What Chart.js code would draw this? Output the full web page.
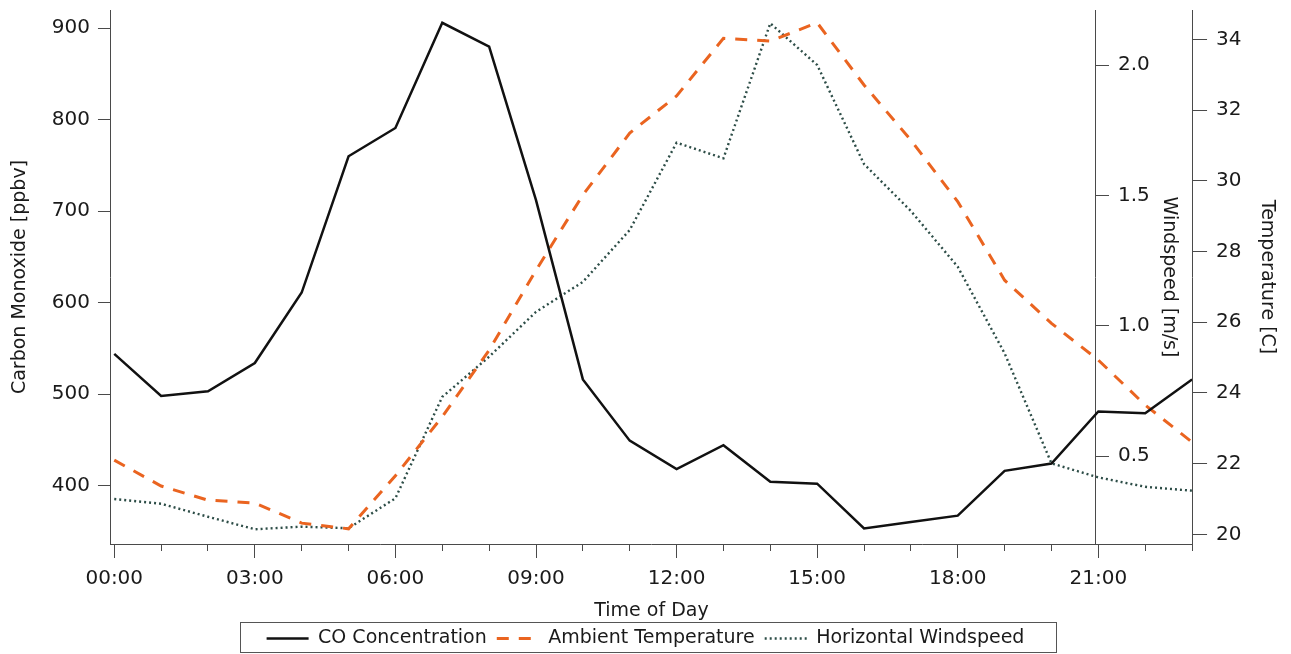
<!DOCTYPE html>
<html>
<head>
<meta charset="utf-8">
<script src="https://cdn.jsdelivr.net/npm/chart.js@4.4.1/dist/chart.umd.min.js"></script>
<style>
  html, body { margin: 0; padding: 0; background: #ffffff; }
  #wrap { width: 1291px; height: 654px; }
</style>
</head>
<body>
<div id="wrap"><canvas id="chart" width="1291" height="654"></canvas></div>
<script>
// Hour of day for each hourly mean
const hours = [0, 1, 2, 3, 4, 5, 6, 7, 8, 9, 10, 11, 12, 13, 14, 15, 16, 17, 18, 19, 20, 21, 22, 23];
const timeLabels = ['00:00', '03:00', '06:00', '09:00', '12:00', '15:00', '18:00', '21:00'];

// Diurnal series
const coPpbv = [544, 498, 503, 534, 611, 760, 791, 906, 880, 712, 516, 449, 418, 444, 404, 402, 353, 360, 367, 416, 424, 481, 479, 516];
const tempC = [22.1, 21.37, 20.97, 20.89, 20.32, 20.16, 21.66, 23.33, 25.21, 27.47, 29.6, 31.35, 32.4, 34.03, 33.95, 34.47, 32.71, 31.15, 29.41, 27.19, 25.97, 24.93, 23.66, 22.61];
const windMs = [0.335, 0.317, 0.267, 0.219, 0.229, 0.223, 0.338, 0.727, 0.881, 1.053, 1.168, 1.367, 1.702, 1.642, 2.16, 2.0, 1.62, 1.44, 1.226, 0.894, 0.472, 0.418, 0.382, 0.367];

// Axis tick values
const coTicks = [400, 500, 600, 700, 800, 900];
const tempTicks = [20, 22, 24, 26, 28, 30, 32, 34];
const windTicks = [0.5, 1.0, 1.5, 2.0];

const AXIS = '#4a4a4a';
const TEXT = '#1a1a1a';
const FONT = 'DejaVu Sans';
const WIND_AXIS_AT = 20.95; // hour at which the windspeed axis is drawn

Chart.defaults.font.family = FONT;
Chart.defaults.color = TEXT;

const pts = (vals) => hours.map((h, i) => ({ x: h, y: vals[i] }));
const noEdgePadding = (s) => { s.paddingTop = 0; s.paddingBottom = 0; };

// Windspeed axis labels and title, drawn beside its axis line
const windAxisText = {
  id: 'windAxisText',
  afterDraw(chart) {
    const s = chart.scales.yWind;
    const ax = chart.scales.x.getPixelForValue(WIND_AXIS_AT);
    const ctx = chart.ctx;
    ctx.save();
    ctx.fillStyle = TEXT;
    ctx.font = '20px "' + FONT + '"';
    ctx.textAlign = 'left';
    ctx.textBaseline = 'middle';
    s.ticks.forEach(t => ctx.fillText(t.value.toFixed(1), ax + 22, s.getPixelForValue(t.value)));
    ctx.font = '19px "' + FONT + '"';
    ctx.textAlign = 'center';
    ctx.translate(ax + 73, (chart.chartArea.top + chart.chartArea.bottom) / 2);
    ctx.rotate(Math.PI / 2);
    ctx.fillText('Windspeed [m/s]', 0, 0);
    ctx.restore();
  }
};

// Frame around the legend entries
const legendFrame = {
  id: 'legendFrame',
  afterDraw(chart) {
    const hb = chart.legend.legendHitBoxes;
    if (!hb || !hb.length) return;
    const left = Math.min(...hb.map(b => b.left)) - 27;
    const right = Math.max(...hb.map(b => b.left + b.width)) + 31;
    const top = hb[0].top - 7;
    const ctx = chart.ctx;
    ctx.save();
    ctx.strokeStyle = '#555555';
    ctx.lineWidth = 1;
    ctx.strokeRect(Math.round(left) + 0.5, Math.round(top) + 0.5, Math.round(right - left), 30);
    ctx.restore();
  }
};

// Legend samples carry each line's own width and dash pattern
const lineLegendLabels = (chart) => {
  const items = Chart.defaults.plugins.legend.labels.generateLabels(chart);
  items.forEach(it => {
    const ds = chart.data.datasets[it.datasetIndex];
    it.lineDash = ds.borderDash || [];
    it.lineWidth = ds.borderWidth;
    it.strokeStyle = ds.borderColor;
    it.fillStyle = ds.borderColor;
    it.lineCap = 'butt';
  });
  return items;
};

new Chart(document.getElementById('chart'), {
  type: 'line',
  data: {
    datasets: [
      {
        label: 'CO Concentration',
        data: pts(coPpbv),
        yAxisID: 'yCO',
        borderColor: '#111111',
        borderWidth: 2.5,
        pointRadius: 0,
        tension: 0,
        fill: false
      },
      {
        label: 'Ambient Temperature',
        data: pts(tempC),
        yAxisID: 'yTemp',
        borderColor: '#EA6420',
        borderWidth: 3,
        borderDash: [12, 10],
        pointRadius: 0,
        tension: 0,
        fill: false
      },
      {
        label: 'Horizontal Windspeed',
        data: pts(windMs),
        yAxisID: 'yWind',
        borderColor: '#2D4D47',
        borderWidth: 2.4,
        borderDash: [2, 3],
        pointRadius: 0,
        tension: 0,
        fill: false
      }
    ]
  },
  options: {
    responsive: false,
    animation: false,
    devicePixelRatio: 1,
    layout: { padding: { top: 10, right: 0, bottom: -4, left: 0 } },
    plugins: {
      tooltip: { enabled: false },
      legend: {
        position: 'bottom',
        labels: {
          usePointStyle: true,
          pointStyle: 'line',
          pointStyleWidth: 42,
          padding: 10,
          color: TEXT,
          font: { size: 19 },
          generateLabels: lineLegendLabels
        }
      }
    },
    scales: {
      x: {
        type: 'linear',
        position: 'bottom',
        min: -0.07,
        max: 23,
        afterBuildTicks: (s) => { s.ticks = hours.map(v => ({ value: v })); },
        ticks: {
          autoSkip: false,
          maxRotation: 0,
          padding: 9,
          color: TEXT,
          font: { size: 20 },
          callback: (v) => (v % 3 === 0 ? timeLabels[v / 3] : '')
        },
        grid: {
          drawOnChartArea: false,
          tickLength: 14,
          color: AXIS,
          tickBorderDash: (c) => (c.tick && c.tick.value % 3 !== 0 ? [6, 40] : [])
        },
        border: { display: true, color: AXIS, width: 1 },
        title: {
          display: true,
          text: 'Time of Day',
          color: TEXT,
          font: { size: 19, lineHeight: 1 },
          padding: { top: 2, bottom: -2 }
        }
      },
      yCO: {
        type: 'linear',
        position: 'left',
        min: 336,
        max: 920,
        afterBuildTicks: (s) => { s.ticks = coTicks.map(v => ({ value: v })); },
        afterFit: noEdgePadding,
        ticks: { padding: 8, color: TEXT, font: { size: 20 } },
        grid: { drawOnChartArea: false, tickLength: 13, color: AXIS },
        border: { display: true, color: AXIS, width: 1 },
        title: {
          display: true,
          text: 'Carbon Monoxide [ppbv]',
          color: TEXT,
          font: { size: 19, lineHeight: 1 },
          padding: { top: 10.5, bottom: 14.3 }
        }
      },
      yTemp: {
        type: 'linear',
        position: 'right',
        min: 19.73,
        max: 34.83,
        afterBuildTicks: (s) => { s.ticks = tempTicks.map(v => ({ value: v })); },
        afterFit: noEdgePadding,
        ticks: { padding: 9, color: TEXT, font: { size: 20 } },
        grid: { drawOnChartArea: false, tickLength: 15, color: AXIS },
        border: { display: true, color: AXIS, width: 1 },
        title: {
          display: true,
          text: 'Temperature [C]',
          color: TEXT,
          font: { size: 19, lineHeight: 1 },
          padding: { top: 14.5, bottom: 7 }
        }
      },
      yWind: {
        type: 'linear',
        axis: 'y',
        position: { x: WIND_AXIS_AT },
        min: 0.1625,
        max: 2.211,
        afterBuildTicks: (s) => { s.ticks = windTicks.map(v => ({ value: v })); },
        afterFit: noEdgePadding,
        ticks: { display: false },
        grid: { drawOnChartArea: false, tickLength: -14, color: AXIS },
        border: { display: true, color: AXIS, width: 1 },
        title: { display: false }
      }
    }
  },
  plugins: [windAxisText, legendFrame]
});
</script>
</body>
</html>
